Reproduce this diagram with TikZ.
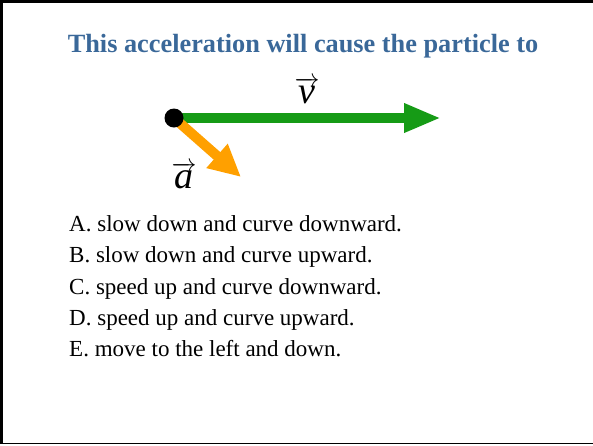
\documentclass[tikz,border=0pt]{standalone}
\usepackage{fontspec}
\setmainfont{Liberation Serif}
\usetikzlibrary{arrows.meta}
\definecolor{titleblue}{RGB}{58,104,153}
\definecolor{vgreen}{RGB}{22,155,22}
\definecolor{aorange}{RGB}{255,160,0}
\begin{document}
\begin{tikzpicture}[x=1pt,y=-1pt,
  titletext/.style={font=\fontsize{26.3}{30}\selectfont\bfseries, text=titleblue, anchor=base, inner sep=0pt},
  itemtext/.style={font=\fontsize{23}{27}\selectfont, anchor=base west, inner sep=0pt},
  veclabel/.style={font=\fontsize{38}{42}\selectfont, inner sep=0pt, anchor=base},
  varrow/.style={line width=10pt, draw=vgreen, -{Triangle[length=37pt 0 0,width=27pt 0 0,fill=vgreen]}},
  aarrow/.style={line width=10pt, draw=aorange, -{Triangle[length=32pt 0 0,width=30pt 0 0,fill=aorange]}},
  particle/.style={circle, fill=black, minimum size=19pt, inner sep=0pt}]
\useasboundingbox (0,0) rectangle (593,445);
\draw[line width=2.5pt] (593,1.25) -- (1.25,1.25) -- (1.25,443.5);
\draw[line width=1pt] (1.25,443.5) -- (593,443.5);
\node[titletext] (title) at (303,52) {This acceleration will cause the particle to};
\coordinate (p) at (174,118);
\coordinate (vtip) at (441,118);
\coordinate (atip) at (241,177);
\draw[varrow] (p) -- (vtip);
\draw[aarrow] (p) -- (atip);
\node[particle] (dot) at (p) {};
\node[veclabel] (vlab) at (307,103) {$\overrightarrow{\mbox{\itshape v}}$};
\node[veclabel] (alab) at (184,188) {$\overrightarrow{\mbox{\itshape a}}$};
\node[itemtext] (iA) at (69,231) {A. slow down and curve downward.};
\node[itemtext] (iB) at (69,262) {B. slow down and curve upward.};
\node[itemtext] (iC) at (69,294) {C. speed up and curve downward.};
\node[itemtext] (iD) at (69,325) {D. speed up and curve upward.};
\node[itemtext] (iE) at (69,356) {E. move to the left and down.};
\end{tikzpicture}
\end{document}
